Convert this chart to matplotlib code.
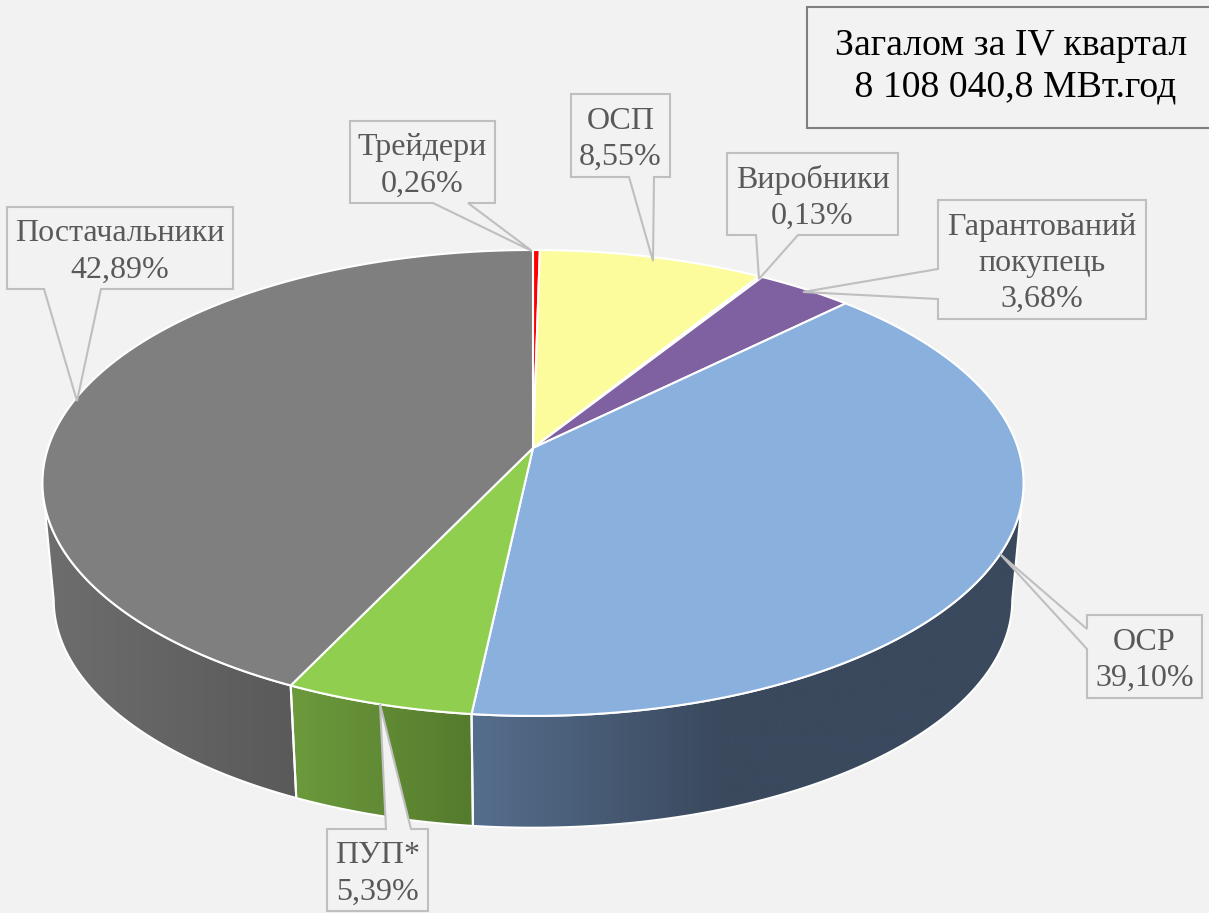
import numpy as np
import matplotlib
matplotlib.use("Agg")
import matplotlib.pyplot as plt
from matplotlib.patches import Polygon
from matplotlib.colors import to_rgb

# ---- data ----
names = ["Трейдери", "ОСП", "Виробники", "Гарантований\nпокупець", "ОСР", "ПУП*", "Постачальники"]
shares = [0.26, 8.55, 0.13, 3.68, 39.10, 5.39, 42.89]
top_colors = ["#FF0000", "#FCFC9C", "#FAD7B0", "#7F60A0", "#8AB0DE", "#8FCE4F", "#7F7F7F"]
side_stops = [None, None, None, None,
              [(460, "#556E8D"), (472, "#556E8D"), (720, "#3A495D"), (1030, "#3A495D")],
              [(280, "#6C9A3C"), (291, "#6C9A3C"), (472, "#557B2D"), (485, "#557B2D")],
              [(40, "#6E6E6E"), (291, "#5A5A5A"), (305, "#5A5A5A")]]
title_lines = "Загалом за IV квартал\n 8 108 040,8 МВт.год"

# ---- style / geometry of the drawing ----
BG = "#F2F2F2"
TXT = "#595959"
EDGE = "#BFBFBF"
FONT = "Liberation Serif"
CX, TOP_CY, BOT_CY = 533, 448, 566
A, B, K = 485, 227.7, 0.15
S_BOT = 0.977
TANGENT = np.degrees(np.arccos(-K))

fig = plt.figure(figsize=(12.09, 9.13), dpi=100, facecolor=BG)
ax = fig.add_axes([0, 0, 1, 1], facecolor=BG)


def project(theta, level="top"):
    t = np.radians(theta)
    x, y = np.sin(t), np.cos(t)
    s, cy = (1, TOP_CY) if level == "top" else (S_BOT, BOT_CY)
    d = 1 + K * y
    return np.column_stack([CX + s * A * x / d, cy - s * B * y / d])


def arc(t0, t1, level="top"):
    n = max(int(abs(t1 - t0)) * 2, 2) + 1
    return project(np.linspace(t0, t1, n), level)


edges = np.concatenate([[0], np.cumsum(shares)]) / sum(shares) * 360

# side walls
for i, stops in enumerate(side_stops):
    if stops is None:
        continue
    t0 = max(edges[i], TANGENT)
    t1 = min(edges[i + 1], 360 - TANGENT)
    pts = np.vstack([arc(t0, t1, "top"), arc(t1, t0, "bot")])
    poly = Polygon(pts, closed=True, fc="none", ec="none")
    ax.add_patch(poly)
    xs = np.linspace(stops[0][0], stops[-1][0], 256)
    rgb = np.array([to_rgb(c) for _, c in stops])
    sx = [p for p, _ in stops]
    grad = np.stack([np.interp(xs, sx, rgb[:, c]) for c in range(3)], axis=-1)[None, :, :]
    im = ax.imshow(grad, extent=(xs[0], xs[-1], 913, 0), aspect="auto",
                   interpolation="bilinear", zorder=1)
    im.set_clip_path(poly)
    ax.add_patch(Polygon(pts, closed=True, fc="none", ec="white", lw=1.5, zorder=2))

# top face
centre = np.array([[CX, TOP_CY]])
for i, col in enumerate(top_colors):
    pts = np.vstack([centre, arc(edges[i], edges[i + 1])])
    ax.add_patch(Polygon(pts, closed=True, fc=col, ec="white", lw=1.5, zorder=3,
                         joinstyle="round"))


# callouts: box, pointer base points and tip are label layout in pixels
def callout(text, box, base, tip, side):
    x0, y0, x1, y1 = box
    if side == "bottom":
        pts = [(x0, y0), (x1, y0), (x1, y1), (base[1], y1), tip, (base[0], y1), (x0, y1)]
    elif side == "top":
        pts = [(x0, y0), (base[0], y0), tip, (base[1], y0), (x1, y0), (x1, y1), (x0, y1)]
    else:  # left
        pts = [(x0, y0), (x1, y0), (x1, y1), (x0, y1), (x0, base[1]), tip, (x0, base[0])]
    ax.add_patch(Polygon(pts, closed=True, fc=BG, ec=EDGE, lw=1.5, zorder=5, joinstyle="miter"))
    ax.text((x0 + x1) / 2, (y0 + y1) / 2 + 4, text, ha="center", va="center", color=TXT,
            fontsize=23, family=FONT, zorder=6, linespacing=1.32)


labels = [f"{n}\n{v:.2f}%".replace(".", ",") for n, v in zip(names, shares)]
callout(labels[0], (350, 121, 495, 203), (433, 468), (532, 251), "bottom")
callout(labels[1], (571, 94, 670, 177), (629, 654), (653, 261), "bottom")
callout(labels[2], (727, 153, 898, 235), (756, 798), (759, 279), "bottom")
callout(labels[3], (938, 200, 1146, 319), (269, 299), (803, 292), "left")
callout(labels[4], (1087, 615, 1202, 698), (629, 649), (1000, 554), "left")
callout(labels[5], (327, 829, 428, 911), (386, 411), (380, 704), "top")
callout(labels[6], (7, 207, 233, 289), (44, 101), (77, 401), "bottom")

# total box (runs off the right edge)
ax.add_patch(Polygon([(807, 7), (1215, 7), (1215, 128), (807, 128)], closed=True,
                     fc=BG, ec="#7F7F7F", lw=1.5, zorder=5))
ax.text(1011, 66.5, title_lines, ha="center", va="center", color="black",
        fontsize=27.2, family=FONT, zorder=6, linespacing=1.29)

ax.set_xlim(0, 1209)
ax.set_ylim(913, 0)
ax.axis("off")
fig.savefig("out.png", dpi=100, facecolor=BG)
